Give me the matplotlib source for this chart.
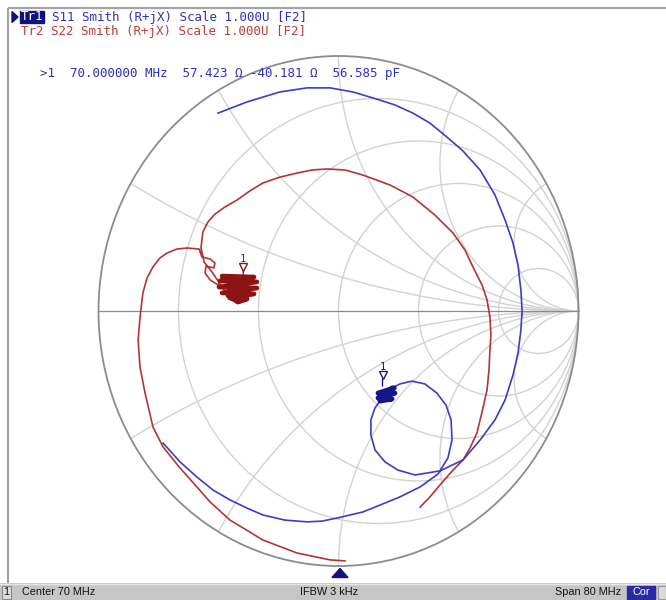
import numpy as np
import matplotlib
matplotlib.use("Agg")
import matplotlib.pyplot as plt
import matplotlib.transforms as mtransforms
from matplotlib.patches import Circle, Rectangle, Polygon

# ---- Sweep data: reflection coefficient (real, imag) along each trace ----
s11_re = [-0.731, -0.660, -0.590, -0.523, -0.452, -0.381, -0.315, -0.223, -0.131, -0.069,
          -0.006, 0.048, 0.102, 0.173, 0.256, 0.340, 0.415, 0.456, 0.473, 0.469,
          0.448, 0.410, 0.360, 0.306, 0.256, 0.223, 0.232, 0.165, 0.235, 0.165,
          0.223, 0.173, 0.152, 0.135, 0.135, 0.152, 0.194, 0.248, 0.319, 0.423,
          0.519, 0.590, 0.652, 0.694, 0.727, 0.748, 0.760, 0.765, 0.760, 0.748,
          0.727, 0.694, 0.652, 0.590, 0.515, 0.452, 0.381, 0.310, 0.235, 0.173,
          0.060, -0.035, -0.131, -0.244, -0.381, -0.502]
s11_im = [-0.518, -0.592, -0.651, -0.702, -0.741, -0.773, -0.800, -0.820, -0.827, -0.824,
          -0.812, -0.800, -0.788, -0.761, -0.729, -0.690, -0.639, -0.576, -0.506, -0.427,
          -0.369, -0.322, -0.286, -0.275, -0.286, -0.302, -0.302, -0.322, -0.322, -0.341,
          -0.345, -0.353, -0.380, -0.427, -0.486, -0.545, -0.592, -0.624, -0.643, -0.627,
          -0.584, -0.506, -0.427, -0.349, -0.251, -0.165, -0.075, 0.000, 0.082, 0.180,
          0.267, 0.357, 0.455, 0.553, 0.631, 0.682, 0.737, 0.776, 0.808, 0.827,
          0.859, 0.875, 0.875, 0.859, 0.820, 0.776]
s11_dense = (25, 31)   # resonance cluster around marker 1

s22_re = [0.027, -0.035, -0.173, -0.315, -0.452, -0.535, -0.590, -0.660, -0.731, -0.773,
          -0.806, -0.827, -0.835, -0.827, -0.815, -0.798, -0.773, -0.744, -0.715, -0.673,
          -0.631, -0.581, -0.569, -0.535, -0.515, -0.519, -0.552, -0.556, -0.535, -0.502,
          -0.485, -0.352, -0.494, -0.340, -0.498, -0.340, -0.485, -0.352, -0.452, -0.381,
          -0.419, -0.460, -0.527, -0.560, -0.573, -0.565, -0.544, -0.515, -0.473, -0.423,
          -0.369, -0.315, -0.244, -0.173, -0.110, -0.048, 0.027, 0.102, 0.215, 0.310,
          0.402, 0.477, 0.527, 0.560, 0.598, 0.619, 0.631, 0.635, 0.631, 0.627,
          0.619, 0.598, 0.577, 0.548, 0.519, 0.477, 0.423, 0.381, 0.340]
s22_im = [-0.980, -0.976, -0.949, -0.898, -0.820, -0.749, -0.690, -0.616, -0.533, -0.455,
          -0.322, -0.220, -0.114, -0.024, 0.071, 0.129, 0.173, 0.208, 0.227, 0.243,
          0.247, 0.243, 0.212, 0.204, 0.188, 0.169, 0.176, 0.149, 0.122, 0.102,
          0.137, 0.133, 0.118, 0.114, 0.094, 0.090, 0.071, 0.067, 0.051, 0.047,
          0.035, 0.059, 0.153, 0.192, 0.247, 0.310, 0.349, 0.380, 0.408, 0.435,
          0.471, 0.502, 0.525, 0.541, 0.553, 0.557, 0.553, 0.533, 0.494, 0.447,
          0.376, 0.306, 0.239, 0.173, 0.102, 0.043, -0.024, -0.094, -0.153, -0.231,
          -0.310, -0.396, -0.478, -0.537, -0.584, -0.624, -0.682, -0.729, -0.769]
s22_dense = (30, 41)

# ---- Marker readout (Tr1, marker 1) ----
mk_freq_mhz = 70.0
mk_r_ohm = 57.423
mk_x_ohm = -40.181
mk_c_pf = 56.585
z0_ohm = 50.0
mk2_gamma = (-0.397, 0.118)   # Tr2 marker 1

# ---- Graticule ----
r_circles = [0.2, 0.5, 1.0, 2.0, 5.0]
x_arcs = [0.268, 0.577, 1.0, 1.732, 3.732]

header_tr1 = "S11 Smith (R+jX) Scale 1.000U [F2]"
header_tr2 = "Tr2 S22 Smith (R+jX) Scale 1.000U [F2]"
status_left = "Center 70 MHz"
status_mid = "IFBW 3 kHz"
status_right = "Span 80 MHz"

BLUE = "#3c3cc4"
BLUE_DK = "#16168a"
RED = "#b43434"
RED_DK = "#8c1414"
GRID = "#d2d2d2"
NAVY = "#12127e"

W, H = 666, 600
fig = plt.figure(figsize=(W / 100, H / 100), dpi=100)
fig.patch.set_facecolor("white")

# Smith chart axes: unit circle spans 480 x 510 px centred at (338.5, 311)
cx, cy, rx, ry = 338.5, 311.0, 240.0, 255.0
lim = 1.05
ax = fig.add_axes([(cx - lim * rx) / W, (H - cy - lim * ry) / H,
                   2 * lim * rx / W, 2 * lim * ry / H])
ax.set_xlim(-lim, lim)
ax.set_ylim(-lim, lim)
ax.set_aspect("auto")
ax.axis("off")

clip = Circle((0, 0), 1.0, transform=ax.transData, fill=False)
for r in r_circles:
    c = Circle((r / (1 + r), 0), 1 / (1 + r), fill=False, ec=GRID, lw=1.0, zorder=1)
    ax.add_patch(c)
for x in x_arcs:
    for s in (1, -1):
        c = Circle((1, s / x), 1 / x, fill=False, ec=GRID, lw=1.0, zorder=1)
        ax.add_patch(c)
        c.set_clip_path(clip)
ax.plot([-1, 1], [0, 0], color="#8a8a8a", lw=0.9, zorder=2)
ax.add_patch(Circle((0, 0), 1.0, fill=False, ec="#8c8c8c", lw=1.3, zorder=2))

# Traces
ax.plot(s22_re, s22_im, color=RED, lw=1.2, zorder=3, solid_joinstyle="round")
a, b = s22_dense
ax.plot(s22_re[a:b + 1], s22_im[a:b + 1], color=RED_DK, lw=3.4, zorder=3,
        solid_capstyle="round", solid_joinstyle="round")
ax.plot(s11_re, s11_im, color=BLUE, lw=1.2, zorder=4, solid_joinstyle="round")
a, b = s11_dense
ax.plot(s11_re[a:b + 1], s11_im[a:b + 1], color=BLUE_DK, lw=3.6, zorder=4,
        solid_capstyle="round", solid_joinstyle="round")

# Markers
z = complex(mk_r_ohm, mk_x_ohm) / z0_ohm
g1 = (z - 1) / (z + 1)


def draw_marker(gx, gy, color):
    ax.annotate("", xy=(gx, gy), xytext=(0, 9), textcoords="offset points",
                arrowprops=dict(arrowstyle="-", color=color, lw=1.0), zorder=6)
    shift = mtransforms.ScaledTranslation(0, 10 / 72, fig.dpi_scale_trans)
    ax.plot([gx], [gy], linestyle="none", marker="v", ms=5.5, mfc="white",
            mec=color, mew=1.0, zorder=6, transform=ax.transData + shift)
    ax.annotate("1", xy=(gx, gy), xytext=(0, 16), textcoords="offset points",
                ha="center", va="center", fontsize=7.5, color=color,
                family="DejaVu Sans Mono", zorder=6)


draw_marker(g1.real, g1.imag, BLUE_DK)
draw_marker(mk2_gamma[0], mk2_gamma[1], RED_DK)

# ---- Overlay: frame, header, status bar (pixel coordinates) ----
ov = fig.add_axes([0, 0, 1, 1])
ov.set_xlim(0, W)
ov.set_ylim(H, 0)
ov.axis("off")
ov.patch.set_alpha(0)

ov.plot([8, 8], [8, 583], color="#a4a4a4", lw=1.6, solid_capstyle="butt")
ov.plot([8, W], [8, 8], color="#a4a4a4", lw=1.6, solid_capstyle="butt")

mono = dict(family="DejaVu Sans Mono", fontsize=9, va="center", ha="left")
ov.add_patch(Polygon([[12, 11.5], [18, 17], [12, 22.5]], closed=True, fc=NAVY, ec=NAVY))
ov.add_patch(Rectangle((19.5, 11), 24, 12, fc=NAVY, ec=NAVY))
ov.text(21, 17, "Tr1", color="white", **mono)
ov.text(52, 17, header_tr1, color="#2f2fc0", **mono)
ov.text(21, 31, header_tr2, color="#c03a3a", **mono)

mk_text = (f">1  {mk_freq_mhz:.6f} MHz  {mk_r_ohm:.3f} \u03a9 "
           f"{mk_x_ohm:.3f} \u03a9  {mk_c_pf:.3f} pF")
ov.text(40, 74, mk_text, color="#2f2fc0", **mono)

# stimulus marker indicator
ov.add_patch(Polygon([[332, 577.5], [348, 577.5], [340, 568.5]], closed=True,
                     fc=NAVY, ec=NAVY))

# status bar
ov.add_patch(Rectangle((0, 583), W, 17, fc="#c6c6c6", ec="none"))
ov.plot([0, W], [583.5, 583.5], color="#e6e6e6", lw=1.0)
ov.add_patch(Rectangle((2, 585.5), 9, 13, fc="#dcdcdc", ec="#8a8a8a", lw=0.8))
sans = dict(family="Liberation Sans", fontsize=7.8, va="center", color="#111111")
ov.text(6.5, 592, "1", ha="center", **sans)
ov.text(22, 592, status_left, ha="left", **sans)
ov.text(329, 592, status_mid, ha="center", **sans)
ov.text(621, 592, status_right, ha="right", **sans)
ov.add_patch(Rectangle((627, 585.5), 28, 13, fc="#2a2aa6", ec="#2a2aa6"))
ov.text(641, 592, "Cor", ha="center", family="Liberation Sans", fontsize=7.8,
        va="center", color="white")
ov.add_patch(Rectangle((658, 585.5), 8, 13, fc="#dadada", ec="#9a9a9a", lw=0.8))

fig.savefig("out.png", dpi=100)
